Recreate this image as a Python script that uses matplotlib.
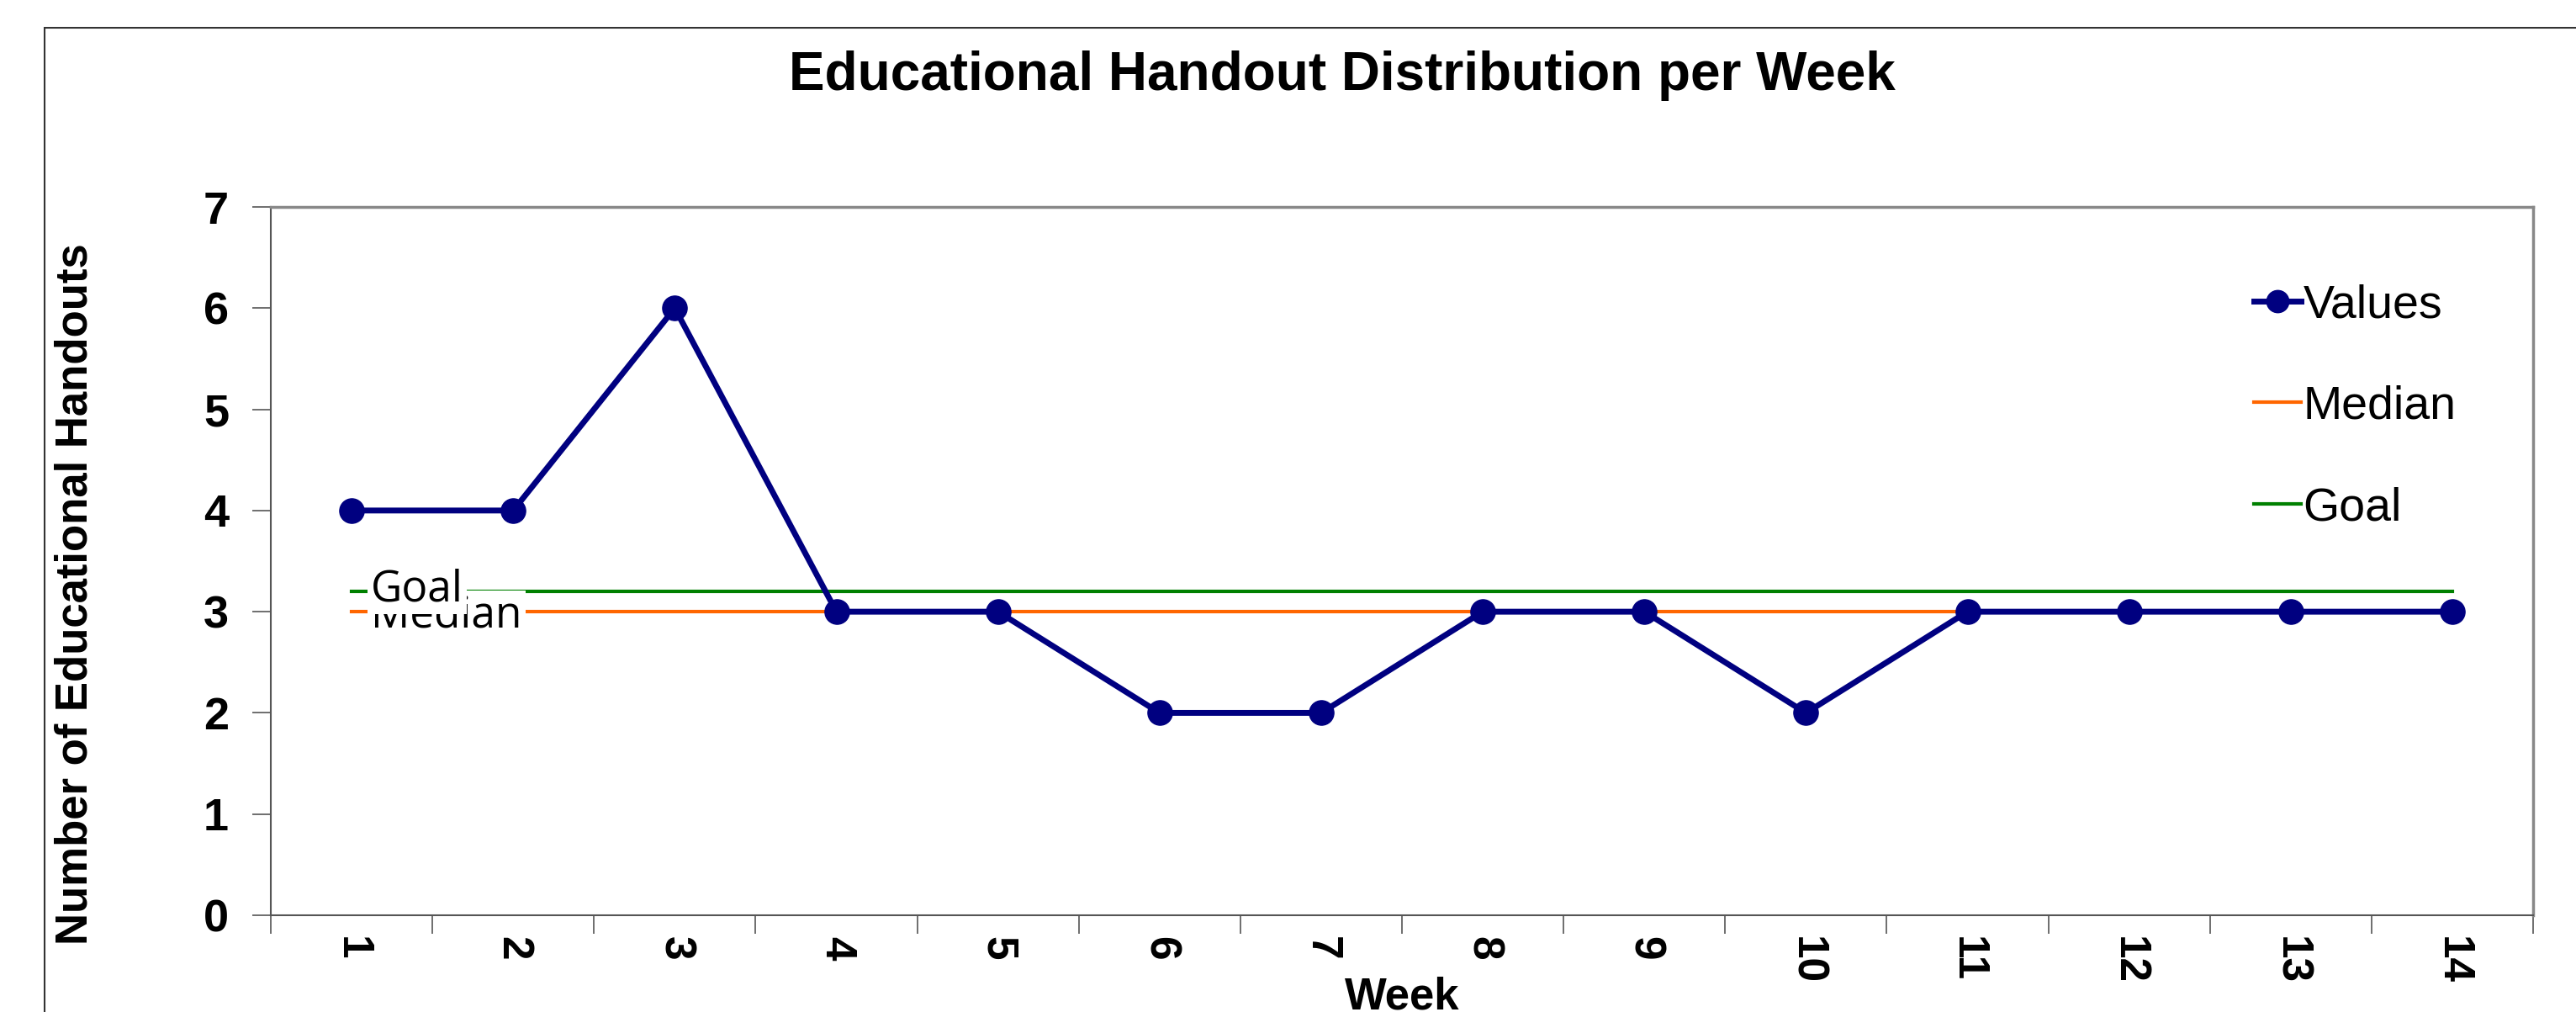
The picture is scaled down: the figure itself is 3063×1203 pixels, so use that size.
import matplotlib
matplotlib.use("Agg")
import matplotlib.pyplot as plt
from matplotlib.lines import Line2D
from matplotlib.patches import Rectangle
import numpy as np

weeks = list(range(1, 15))
week_labels = [str(w) for w in weeks]
values = [4, 4, 6, 3, 3, 2, 2, 3, 3, 2, 3, 3, 3, 3]
median = 3
goal = 3.2

W, H = 3063, 1203
plt.rcParams['font.family'] = ['Liberation Sans', 'DejaVu Sans']

fig = plt.figure(figsize=(W / 100, H / 100), dpi=100)

# outer chart frame
fig.patches.append(Rectangle((53 / W, -0.1), 1.1, 1 - 33 / H + 0.1, transform=fig.transFigure,
                             fill=False, edgecolor='#333333', linewidth=1.5))

left, right, top, bottom = 322, 3012, 246, 1088
ax = fig.add_axes([left / W, 1 - bottom / H, (right - left) / W, (bottom - top) / H])

x = np.array(weeks)
ax.plot(x, [median] * len(x), color='#FF6600', lw=3, zorder=2)
ax.plot(x, [goal] * len(x), color='#008000', lw=3, zorder=2)
ax.plot(x, values, color='#000080', lw=5, marker='o', markersize=21, zorder=3)

# data labels at the start of the reference lines
ax.text(1.12, median - 0.04, 'Median', fontsize=37, family=['Open Sans', 'DejaVu Sans'],
        va='center', ha='left', zorder=5,
        bbox=dict(facecolor='white', edgecolor='none', pad=3))
ax.text(1.12, goal + 0.02, 'Goal', fontsize=37, family=['Open Sans', 'DejaVu Sans'],
        va='center', ha='left', zorder=6,
        bbox=dict(facecolor='white', edgecolor='none', pad=3))

ax.set_xlim(0.5, 14.5)
ax.set_ylim(0, 7)
ax.set_yticks(range(0, 8))
ax.set_xticks(np.arange(0.5, 15, 1))
ax.set_xticklabels([])
ax.set_xticks(x, minor=True)
ax.set_xticklabels(week_labels, minor=True, rotation=270, fontsize=37, fontweight='bold')
ax.tick_params(axis='x', which='major', length=16, width=1.2, color='#555555', direction='out')
ax.tick_params(axis='x', which='minor', length=0, pad=18)
ax.tick_params(axis='y', length=16, width=1.2, color='#555555', pad=20, labelsize=39)
for lab in ax.get_yticklabels():
    lab.set_fontweight('bold')

for s in ['left', 'bottom']:
    ax.spines[s].set_color('#555555')
    ax.spines[s].set_linewidth(1.5)
for s in ['top', 'right']:
    ax.spines[s].set_color('#888888')
    ax.spines[s].set_linewidth(2.5)

handles = [Line2D([], [], color='#000080', lw=5, marker='o', markersize=19),
           Line2D([], [], color='#FF6600', lw=3),
           Line2D([], [], color='#008000', lw=3)]
ax.legend(handles, ['Values', 'Median', 'Goal'], loc='upper left',
          bbox_to_anchor=(2680 / W, 1 - 337 / H), bbox_transform=fig.transFigure,
          frameon=False, fontsize=40, handlelength=1.0, handletextpad=0.05,
          labelspacing=1.24, borderpad=0, borderaxespad=0)

fig.text(1596 / W, 1 - 90 / H, 'Educational Handout Distribution per Week', ha='center',
         va='center', fontsize=46, fontweight='bold')
fig.text(90 / W, 1 - 706 / H, 'Number of Educational Handouts', rotation=90, ha='center',
         va='center', fontsize=38, fontweight='bold')
fig.text(1667 / W, 1 - 1186 / H, 'Week', ha='center', va='center', fontsize=38,
         fontweight='bold')

fig.savefig('out.png', dpi=100)
